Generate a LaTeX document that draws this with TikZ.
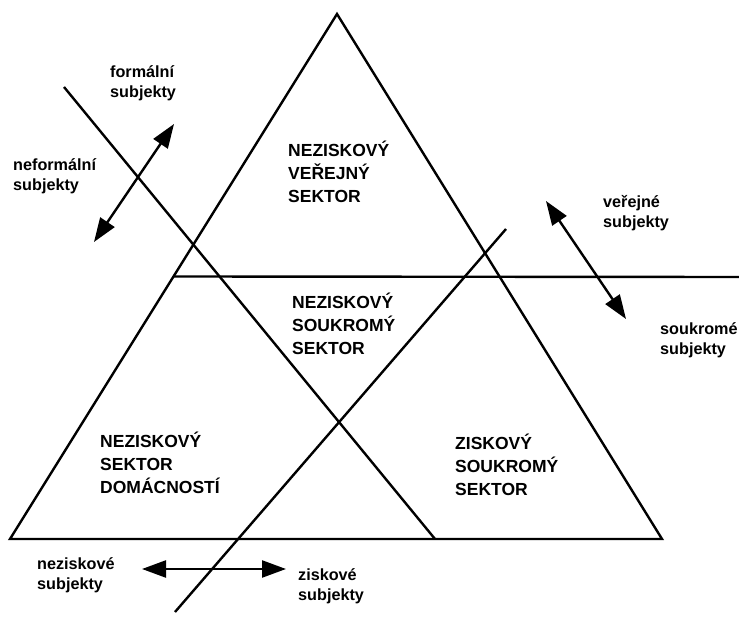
\documentclass[tikz,border=0pt]{standalone}
\usepackage{fontspec}
\setmainfont{Liberation Sans}
\usetikzlibrary{arrows.meta,calc}

\begin{document}
\begin{tikzpicture}[x=1pt,y=-1pt]
            \tikzset{sector/.style = {align=left, anchor=west, inner sep=0pt, font=\fontsize{17.5}{23}\selectfont\bfseries}}
            \tikzset{group/.style = {align=left, anchor=west, inner sep=0pt, font=\fontsize{16.2}{20}\selectfont\bfseries}}
            \tikzset{edge/.style = {line width=2.4pt}}
            \tikzset{move/.style = {line width=2.4pt, {Triangle[length=24pt,width=17pt]}-{Triangle[length=24pt,width=17pt]}}}
            \useasboundingbox (0,0) rectangle (739,617);

            % triangle
            \coordinate (top) at (337,14);
            \coordinate (bl) at (10,539);
            \coordinate (br) at (662,539);
            \coordinate (hl) at ($(bl)!0.5!(top)$);
            \coordinate (hr) at (739,277);
            \coordinate (d1a) at (64,87);
            \coordinate (d1b) at (435,539);
            \coordinate (d2a) at (175,612);
            \coordinate (d2b) at (506,229);

            % arrow ends
            \coordinate (inf) at (94,242);
            \coordinate (for) at (174,124);
            \coordinate (pub) at (546,201);
            \coordinate (pri) at (626,319);
            \coordinate (npr) at (142,569);
            \coordinate (zpr) at (286,569);

            % labels
            \node[sector] (nvs) at (288,172) {NEZISKOVÝ\\VEŘEJNÝ\\SEKTOR};
            \node[sector] (nss) at (292,324) {NEZISKOVÝ\\SOUKROMÝ\\SEKTOR};
            \node[sector] (nsd) at (100,463) {NEZISKOVÝ\\SEKTOR\\DOMÁCNOSTÍ};
            \node[sector] (zss) at (455,465) {ZISKOVÝ\\SOUKROMÝ\\SEKTOR};
            \node[group] (fs) at (110,83) {formální\\subjekty};
            \node[group] (nfs) at (13,176) {neformální\\subjekty};
            \node[group] (vs) at (603,213) {veřejné\\subjekty};
            \node[group] (ss) at (660,340) {soukromé\\subjekty};
            \node[group] (ns) at (37,575) {neziskové\\subjekty};
            \node[group] (zs) at (298,586) {ziskové\\subjekty};

            % edges
            \draw[edge, line join=miter] (bl) -- (top) -- (br) -- cycle;
            \foreach \a/\b in {hl/hr,d1a/d1b,d2a/d2b} {\draw[edge] (\a) -- (\b);}
            \foreach \a/\b in {inf/for,pub/pri,npr/zpr} {\draw[move] (\a) -- (\b);}

\end{tikzpicture}
\end{document}
